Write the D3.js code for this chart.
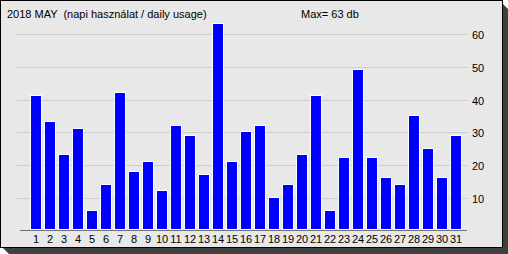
<!DOCTYPE html>
<html>
<head>
<meta charset="utf-8">
<script src="https://cdn.jsdelivr.net/npm/d3@7"></script>
<style>
  body { margin: 0; background: #fff; }
  svg { display: block; }
  text { font-family: "Liberation Sans", Arial, sans-serif; font-size: 11px; fill: #000; white-space: pre; }
</style>
</head>
<body>
<div id="viz-chart"></div>
<script>
const days = d3.range(1, 32);
const usage = [41, 33, 23, 31, 6, 14, 42, 18, 21, 12, 32, 29, 17, 63, 21, 30,
  32, 10, 14, 23, 41, 6, 22, 49, 22, 16, 14, 35, 25, 16, 29];
const yTicks = [10, 20, 30, 40, 50, 60];
const title = "2018 MAY  (napi használat / daily usage)";
const maxLabel = `Max= ${d3.max(usage)} db`;

const width = 508;
const height = 254;

const svg = d3
  .select("#viz-chart")
  .append("svg")
  .attr("width", width)
  .attr("height", height);

// drop shadow + frame
svg
  .append("path")
  .attr("d", "M502,3 L508,9 L508,254 L9,254 L3,248 L502,248 Z")
  .style("fill", "#404040");
svg
  .append("rect")
  .attr("x", 0.5)
  .attr("y", 0.5)
  .attr("width", 502)
  .attr("height", 247)
  .style("fill", "#e8e8e8")
  .style("stroke", "#000");

const x = d3.scalePoint().domain(days).range([36, 456]);
const y = d3.scaleLinear().domain([0, 60]).range([230.5, 34]);

// gridlines
svg
  .selectAll("line.grid")
  .data(yTicks)
  .enter()
  .append("line")
  .attr("x1", 15)
  .attr("x2", 468)
  .attr("y1", (d) => Math.round(y(d)) + 0.5)
  .attr("y2", (d) => Math.round(y(d)) + 0.5)
  .style("stroke", "#cdcdcd");

svg
  .selectAll("text.ytick")
  .data(yTicks)
  .enter()
  .append("text")
  .attr("x", 472)
  .attr("y", (d) => Math.round(y(d)) + 5)
  .text((d) => d);

// bars: white outline then blue fill
svg
  .selectAll("rect.outline")
  .data(usage)
  .enter()
  .append("rect")
  .attr("x", (d, i) => Math.round(x(days[i])) - 6)
  .attr("y", (d) => Math.round(y(d)) - 1)
  .attr("width", 12)
  .attr("height", (d) => 230 - Math.round(y(d)) + 1)
  .style("fill", "#fff");

svg
  .selectAll("rect.bar")
  .data(usage)
  .enter()
  .append("rect")
  .attr("x", (d, i) => Math.round(x(days[i])) - 5)
  .attr("y", (d) => Math.round(y(d)))
  .attr("width", 10)
  .attr("height", (d) => 229 - Math.round(y(d)))
  .style("fill", "#0000ff");

// x axis line
svg
  .append("line")
  .attr("x1", 20)
  .attr("x2", 467)
  .attr("y1", 230.5)
  .attr("y2", 230.5)
  .style("stroke", "#6e6e6e");

svg
  .selectAll("text.xtick")
  .data(days)
  .enter()
  .append("text")
  .attr("x", (d) => x(d))
  .attr("y", 243)
  .attr("text-anchor", "middle")
  .text((d) => d);

svg.append("text").attr("x", 7).attr("y", 18).text(title);
svg.append("text").attr("x", 301).attr("y", 18).text(maxLabel);
</script>
</body>
</html>
